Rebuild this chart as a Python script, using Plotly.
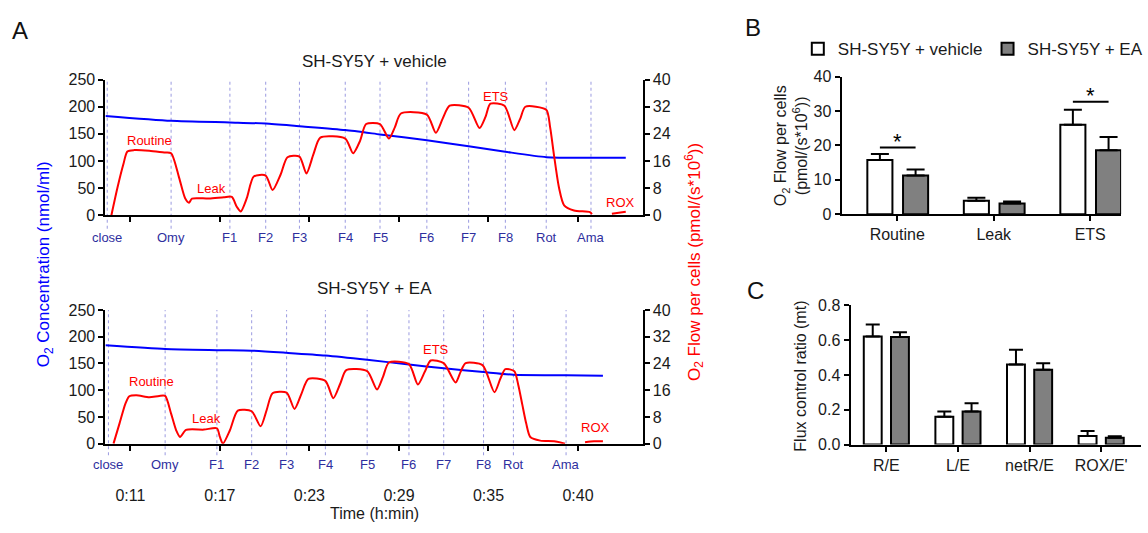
import plotly.graph_objects as go

W, H = 1148, 533
FONT = "Liberation Sans, Arial, sans-serif"

# ---------------- Panel A data (time in minutes) ----------------
time_ticks = [11, 17, 23, 29, 35, 41]
time_labels = ["0:11", "0:17", "0:23", "0:29", "0:35", "0:40"]
events = ["close", "Omy", "F1", "F2", "F3", "F4", "F5", "F6", "F7", "F8", "Rot", "Ama"]
ev_top = [9.45, 13.73, 17.67, 20.07, 22.33, 25.4, 27.73, 30.87, 33.67, 36.13, 38.87, 41.87]
ev_bot = [9.53, 13.33, 16.8, 19.13, 21.47, 24.07, 26.87, 29.67, 32.0, 34.67, 36.67, 40.2]

# vehicle: O2 flow (pmol/(s*10^6))
t_top_red = [9.73, 10.13, 10.53, 10.8, 11.27, 12.27, 13.27, 13.73, 14.27, 14.67, 14.93, 15.13,
             16.27, 17.27, 17.8, 18.13, 18.4, 18.8, 19.27, 20.07, 20.53, 21.07, 21.53, 22.33,
             22.8, 23.27, 23.73, 25.4, 25.93, 26.4, 26.8, 27.73, 28.33, 28.73, 29.13, 30.87,
             31.47, 31.93, 32.4, 33.67, 34.4, 34.8, 35.13, 36.07, 36.73, 37.13, 37.47, 38.87,
             39.13, 39.4, 39.73, 40.07, 40.73, 41.8, 41.93, None, 43.27, 43.73, 44.2]
f_top_red = [0, 8, 15, 18.8, 19.2, 19.0, 18.5, 18.3, 11, 5, 3.7, 4.9,
             4.9, 5.3, 5.4, 2.5, 1.1, 5, 11.4, 11.7, 7.4, 12, 17.1, 17.3,
             12.3, 18, 22.9, 22.6, 18.3, 22, 26.9, 26.9, 22.6, 26, 30.0, 29.7,
             24.3, 28.5, 32.3, 31.7, 25.7, 29, 32.9, 32.3, 25.1, 28.5, 32.0, 31.1,
             26, 17.4, 8, 2.9, 1.4, 0.9, 0.3, None, 0.4, 0.7, 1.0]
# vehicle: O2 concentration (nmol/ml)
t_top_blue = [9.33, 13.73, 17.67, 20.07, 22.33, 25.4, 27.73, 30.87, 33.67, 36.13, 38.87, 41.87, 44.2]
c_top_blue = [183, 174, 171, 169, 164, 157, 149, 138, 127, 117, 107, 106, 106]

# EA: O2 flow
t_bot_red = [9.87, 10.27, 10.67, 10.93, 11.4, 12.27, 12.93, 13.33, 13.73, 14.07, 14.33, 14.73,
             15.93, 16.8, 17.0, 17.2, 17.67, 18.2, 19.13, 19.73, 20.13, 20.53, 21.47, 22.0,
             22.47, 22.93, 24.07, 24.6, 25.07, 25.47, 26.87, 27.53, 27.93, 28.33, 29.67, 30.27,
             30.73, 31.13, 32.0, 32.8, 33.13, 33.47, 34.6, 35.4, 35.8, 36.13, 36.73, 37.0,
             37.27, 37.53, 37.8, 38.47, 39.4, 40.13, None, 41.47, 42.07, 42.67]
f_bot_red = [0, 6, 12, 14.2, 14.5, 13.9, 14.3, 14.3, 9, 4, 2.0, 4.1,
             4.2, 4.6, 2, 0, 4, 9.9, 9.7, 5.2, 10, 15.1, 15.3, 10.4,
             15, 19.4, 18.8, 13.6, 18, 22, 21.7, 16.2, 20, 24.3, 23.8, 17.7,
             21.5, 24.9, 24.1, 18.3, 21.5, 24.1, 23.5, 15.4, 19.5, 22.3, 21.7, 17.5,
             11.6, 6, 2.0, 0.9, 0.7, 0, None, 0.4, 0.7, 0.7]
# EA: O2 concentration
t_bot_blue = [9.33, 13.33, 16.8, 19.13, 21.47, 24.07, 26.87, 29.67, 32.0, 34.67, 36.67, 40.2, 42.67]
c_bot_blue = [184, 177, 175, 174, 170, 165, 157, 148, 141, 134, 129, 128, 127]

phase_names = ["Routine", "Leak", "ETS", "ROX"]
phase_top_t = [12.27, 16.47, 35.53, 43.87]
phase_top_v = [22.0, 8.0, 35.1, 3.7]
phase_bot_t = [12.4, 16.07, 31.47, 42.2]
phase_bot_v = [18.6, 7.5, 28.1, 4.9]

# ---------------- Panel B data ----------------
b_cats = ["Routine", "Leak", "ETS"]
b_vehicle = [15.8, 3.9, 26.0]
b_vehicle_err = [1.7, 0.9, 4.4]
b_ea = [11.3, 3.1, 18.6]
b_ea_err = [1.7, 0.6, 3.9]
b_sig_cats = [0, 2]
b_sig_y = [19.4, 32.7]

# ---------------- Panel C data ----------------
c_cats = ["R/E", "L/E", "netR/E", "ROX/E'"]
c_vehicle = [0.62, 0.16, 0.46, 0.05]
c_vehicle_err = [0.07, 0.03, 0.085, 0.028]
c_ea = [0.617, 0.19, 0.43, 0.039]
c_ea_err = [0.028, 0.047, 0.037, 0.009]

RED = "#ff0000"
BLUE = "#0000ff"
EVC = "#9a9ae0"
EVT = "#2e2e9e"
GRAY = "#808080"
TXT = "#1a1a1a"


def px_x(p):
    return p / W


def px_y(p):
    return 1 - p / H


fig = go.Figure()

# Panel A traces
fig.add_trace(go.Scatter(x=t_top_blue, y=c_top_blue, mode="lines", line=dict(color=BLUE, width=2, shape="spline", smoothing=0.6),
                         xaxis="x", yaxis="y", showlegend=False, hoverinfo="skip"))
fig.add_trace(go.Scatter(x=t_top_red, y=f_top_red, mode="lines", line=dict(color=RED, width=2, shape="spline", smoothing=0.7),
                         connectgaps=False, xaxis="x", yaxis="y2", showlegend=False, hoverinfo="skip"))
fig.add_trace(go.Scatter(x=t_bot_blue, y=c_bot_blue, mode="lines", line=dict(color=BLUE, width=2, shape="spline", smoothing=0.6),
                         xaxis="x2", yaxis="y3", showlegend=False, hoverinfo="skip"))
fig.add_trace(go.Scatter(x=t_bot_red, y=f_bot_red, mode="lines", line=dict(color=RED, width=2, shape="spline", smoothing=0.7),
                         connectgaps=False, xaxis="x2", yaxis="y4", showlegend=False, hoverinfo="skip"))

# Panel B bars
b_off_v, b_off_e, b_w = -0.18, 0.19, 0.26
fig.add_trace(go.Bar(x=[i + b_off_v for i in range(len(b_cats))], y=b_vehicle, width=b_w,
                     marker=dict(color="white", line=dict(color="black", width=2)),
                     error_y=dict(type="data", symmetric=False, array=b_vehicle_err, arrayminus=[0] * 3,
                                  color="black", thickness=2, width=9),
                     name="SH-SY5Y + vehicle", xaxis="x3", yaxis="y5", showlegend=True))
fig.add_trace(go.Bar(x=[i + b_off_e for i in range(len(b_cats))], y=b_ea, width=b_w,
                     marker=dict(color=GRAY, line=dict(color="black", width=2)),
                     error_y=dict(type="data", symmetric=False, array=b_ea_err, arrayminus=[0] * 3,
                                  color="black", thickness=2, width=9),
                     name="SH-SY5Y + EA", xaxis="x3", yaxis="y5", showlegend=True))

# Panel C bars
c_off_v, c_off_e, c_w = -0.19, 0.19, 0.25
fig.add_trace(go.Bar(x=[i + c_off_v for i in range(len(c_cats))], y=c_vehicle, width=c_w,
                     marker=dict(color="white", line=dict(color="black", width=2)),
                     error_y=dict(type="data", symmetric=False, array=c_vehicle_err, arrayminus=[0] * 4,
                                  color="black", thickness=2, width=7),
                     xaxis="x4", yaxis="y6", showlegend=False))
fig.add_trace(go.Bar(x=[i + c_off_e for i in range(len(c_cats))], y=c_ea, width=c_w,
                     marker=dict(color=GRAY, line=dict(color="black", width=2)),
                     error_y=dict(type="data", symmetric=False, array=c_ea_err, arrayminus=[0] * 4,
                                  color="black", thickness=2, width=7),
                     xaxis="x4", yaxis="y6", showlegend=False))

shapes = []
annotations = []

# Event dotted lines and labels
for ev_list, xref, y0p, y1p, ylab in [(ev_top, "x", 228, 74, 237), (ev_bot, "x2", 462, 312, 472)]:
    for name, t in zip(events, ev_list):
        shapes.append(dict(type="line", xref=xref, yref="paper", x0=t, x1=t, y0=px_y(y0p), y1=px_y(y1p),
                           line=dict(color=EVC, width=1, dash="dot"), layer="below"))
        annotations.append(dict(text=name, x=t, y=px_y(ylab), xref=xref, yref="paper", showarrow=False,
                                font=dict(size=13, color=EVT, family=FONT), xanchor="center", yanchor="middle"))

# Phase labels
for names, ts, vs, xref, yref in [(phase_names, phase_top_t, phase_top_v, "x", "y2"),
                                  (phase_names, phase_bot_t, phase_bot_v, "x2", "y4")]:
    for n, t, v in zip(names, ts, vs):
        annotations.append(dict(text=n, x=t, y=v, xref=xref, yref=yref, showarrow=False,
                                font=dict(size=13, color=RED, family=FONT), xanchor="center", yanchor="middle"))

# Significance lines & stars in B
for c, yv in zip(b_sig_cats, b_sig_y):
    shapes.append(dict(type="line", xref="x3", yref="y5", x0=c + b_off_v, x1=c + b_off_e, y0=yv, y1=yv,
                       line=dict(color="black", width=2)))
    annotations.append(dict(text="*", x=c + (b_off_v + b_off_e) / 2, y=yv, xref="x3", yref="y5", showarrow=False,
                            font=dict(size=22, color="black", family=FONT), xanchor="center", yanchor="bottom", yshift=-8))

# Titles / labels
def ann(text, xp, yp, size=15, color=TXT, angle=0, xanchor="center"):
    annotations.append(dict(text=text, x=px_x(xp), y=px_y(yp), xref="paper", yref="paper", showarrow=False,
                            font=dict(size=size, color=color, family=FONT), textangle=angle,
                            xanchor=xanchor, yanchor="middle"))

ann("SH-SY5Y + vehicle", 376, 55, size=17)
ann("SH-SY5Y + EA", 376, 290, size=17)
ann("Time (h:min)", 376, 522, size=16)
ann("O<sub>2</sub> Concentration (nmol/ml)", 45, 265, size=17, color=BLUE, angle=-90)
ann("O<sub>2</sub> Flow per cells (pmol/(s*10<sup>6</sup>))", 698, 262, size=17, color=RED, angle=-90)
ann("O<sub>2</sub> Flow per cells<br>(pmol/(s*10<sup>6</sup>))", 796, 142, size=16, color=TXT, angle=-90)
ann("Flux control ratio (mt)", 805, 380, size=16, color=TXT, angle=-90)
ann("A", 20, 23, size=24, color="#111111")
ann("B", 757, 20, size=24, color="#111111")
ann("C", 759, 292, size=24, color="#111111")

TF16 = dict(size=16, color=TXT, family=FONT)
axis_common = dict(showline=True, linecolor="black", linewidth=2, ticks="outside", ticklen=5, tickwidth=2,
                   tickcolor="black", showgrid=False, zeroline=False, tickfont=TF16)

A_x = [px_x(106), px_x(646)]
xrngA = [9.33, 45.33]

layout = dict(
    width=W, height=H, margin=dict(l=0, r=0, t=0, b=0),
    paper_bgcolor="white", plot_bgcolor="rgba(0,0,0,0)",
    font=dict(family=FONT, color=TXT),
    barmode="overlay",
    xaxis=dict(domain=A_x, range=xrngA, anchor="y", tickvals=time_ticks, showticklabels=False, **axis_common),
    yaxis=dict(domain=[px_y(214), px_y(74)], range=[0, 250], dtick=50, anchor="x", **axis_common),
    yaxis2=dict(range=[0, 40], dtick=8, overlaying="y", side="right", anchor="x", **axis_common),
    xaxis2=dict(domain=A_x, range=xrngA, anchor="y3", tickvals=time_ticks, ticktext=time_labels,
                ticklabelstandoff=31, **axis_common),
    yaxis3=dict(domain=[px_y(450), px_y(312)], range=[0, 250], dtick=50, anchor="x2", **axis_common),
    yaxis4=dict(range=[0, 40], dtick=8, overlaying="y3", side="right", anchor="x2", **axis_common),
    xaxis3=dict(domain=[px_x(846), px_x(1127)], range=[-0.577, 2.32], anchor="y5",
                tickvals=list(range(len(b_cats))), ticktext=b_cats, **axis_common),
    yaxis5=dict(domain=[px_y(213), px_y(71)], range=[0, 40], dtick=10, anchor="x3", **axis_common),
    xaxis4=dict(domain=[px_x(855), px_x(1147)], range=[-0.5, 3.556], anchor="y6",
                tickvals=list(range(len(c_cats))), ticktext=c_cats, **axis_common),
    yaxis6=dict(domain=[px_y(451), px_y(307)], range=[0, 0.8], dtick=0.2, tickformat=".1f", anchor="x4",
                **axis_common),
    legend=dict(orientation="h", x=px_x(802), y=px_y(24), xanchor="left", yanchor="top",
                font=dict(size=17, color=TXT, family=FONT), bgcolor="rgba(0,0,0,0)",
                itemsizing="constant", traceorder="normal", tracegroupgap=0, itemwidth=30),
    shapes=shapes,
    annotations=annotations,
)
fig.update_layout(**layout)

fig.write_html("out.html")
